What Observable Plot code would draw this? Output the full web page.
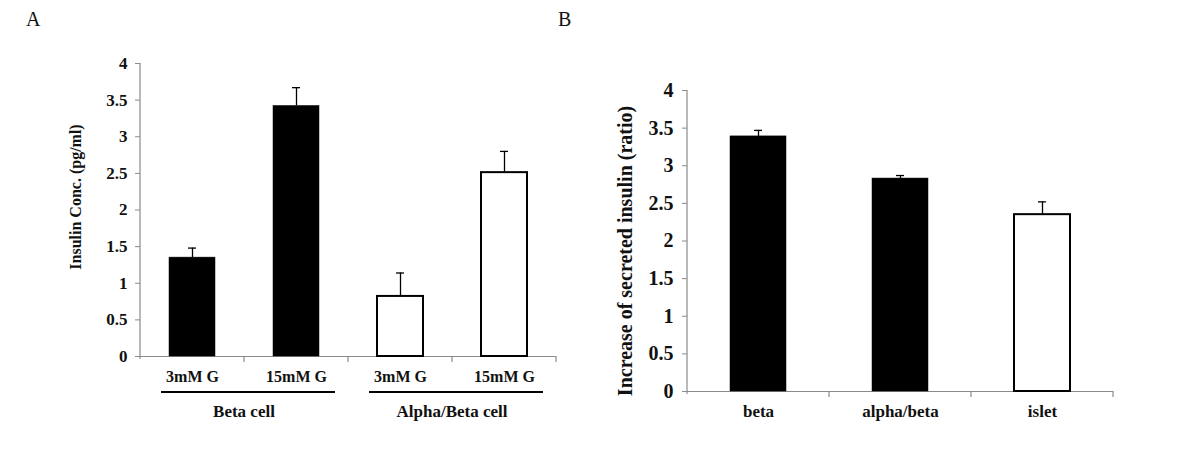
<!DOCTYPE html>
<html>
<head>
<meta charset="utf-8">
<script src="https://cdn.jsdelivr.net/npm/d3@7"></script>
<script src="https://cdn.jsdelivr.net/npm/@observablehq/plot@0.6"></script>
<style>
  body { margin: 0; background: #fff; }
  #wrap { position: relative; width: 1197px; height: 475px; background: #fff; overflow: hidden; }
  .panel { position: absolute; top: 0; }
  .plabel { position: absolute; font-family: "Liberation Serif", serif; font-size: 20px; color: #111; }
</style>
</head>
<body>
<div id="wrap">
  <div class="plabel" style="left:26px; top:8px;">A</div>
  <div class="plabel" style="left:558px; top:8px;">B</div>
  <div class="panel" id="pa" style="left:0px;"></div>
  <div class="panel" id="pb" style="left:597px;"></div>
</div>
<script>
// ---------- Panel A data ----------
const conditionsA = ["3mM G", "15mM G", "3mM G", "15mM G"];
const cellTypesA = ["Beta cell", "Beta cell", "Alpha/Beta cell", "Alpha/Beta cell"];
const insulinA = [1.35, 3.42, 0.82, 2.51];
const errorA = [0.13, 0.25, 0.32, 0.29];
const yTicksA = [0, 0.5, 1, 1.5, 2, 2.5, 3, 3.5, 4];
const yTitleA = "Insulin Conc. (pg/ml)";

// ---------- Panel B data ----------
const cellsB = ["beta", "alpha/beta", "islet"];
const ratioB = [3.39, 2.83, 2.35];
const errorB = [0.08, 0.04, 0.17];
const yTicksB = [0, 0.5, 1, 1.5, 2, 2.5, 3, 3.5, 4];
const yTitleB = "Increase of secreted insulin (ratio)";

const FONT = "Liberation Serif, Times New Roman, serif";
const AXIS_GRAY = "#8a8a8a";

// ---------- Panel A ----------
const dataA = conditionsA.map((c, i) => ({
  key: cellTypesA[i] + "|" + c, cond: c, cell: cellTypesA[i],
  value: insulinA[i], upper: insulinA[i] + errorA[i]
}));
const keysA = dataA.map(d => d.key);
const condByKey = new Map(dataA.map(d => [d.key, d.cond]));

const plotA = Plot.plot({
  width: 600, height: 475,
  marginLeft: 140, marginRight: 44, marginTop: 63, marginBottom: 119,
  style: { fontFamily: FONT, fontWeight: "bold", fontSize: "16px", color: "#111", background: "transparent" },
  x: { type: "band", domain: keysA, paddingInner: 0.558, paddingOuter: 0.279, axis: null },
  y: { domain: [0, 4], axis: null },
  marks: [
    Plot.ruleY([0], { stroke: AXIS_GRAY, strokeWidth: 1.2 }),
    Plot.barY(dataA, {
      x: "key", y: "value",
      fill: d => d.cell === "Alpha/Beta cell" ? "white" : "black",
      stroke: "black", strokeWidth: d => d.cell === "Alpha/Beta cell" ? 2 : 0.5
    }),
    Plot.ruleX(dataA, { x: "key", y1: "value", y2: "upper", stroke: "black", strokeWidth: 1.3 }),
    Plot.tickY(dataA, { x: "key", y: "upper", stroke: "black", strokeWidth: 1.3, insetLeft: 19, insetRight: 19 }),
    Plot.axisY({ ticks: yTicksA, tickFormat: d => String(d), tickSize: 5, tickPadding: 8, stroke: AXIS_GRAY, fontSize: 17, fontWeight: "bold", fontFamily: FONT, label: null }),
    Plot.axisX({ tickSize: 0, tickPadding: 14, fontSize: 16, fontWeight: "bold", fontFamily: FONT, label: null, tickFormat: k => condByKey.get(k) }),
    Plot.text([yTitleA], { frameAnchor: "left", textAnchor: "middle", rotate: -90, dx: -65, dy: -13, fontSize: 16, fontWeight: "bold", fontFamily: FONT, text: d => d })
  ]
});
document.getElementById("pa").appendChild(plotA);

function decorateAxes(svg, plot, keys, tickLen) {
  const xs = plot.scale("x"), ys = plot.scale("y");
  const bw = xs.bandwidth, step = xs.step;
  const g = d3.select(svg).append("g");
  const y0 = ys.apply(0), yTop = ys.apply(ys.domain[1]);
  const xStart = xs.apply(keys[0]) - (step - bw) / 2;
  // y axis line
  g.append("line").attr("x1", xStart).attr("x2", xStart).attr("y1", yTop).attr("y2", y0 + 3)
    .attr("stroke", AXIS_GRAY).attr("stroke-width", 1.2);
  // x ticks at band boundaries
  keys.forEach(k => {
    const xe = xs.apply(k) + bw + (step - bw) / 2;
    g.append("line").attr("x1", xe).attr("x2", xe).attr("y1", y0).attr("y2", y0 + tickLen)
      .attr("stroke", AXIS_GRAY).attr("stroke-width", 1.2);
  });
  return { xs, ys, bw, y0, g };
}

const axA = decorateAxes(plotA, plotA, keysA, 6);
// group underlines and labels
const groupsA = Array.from(new Set(cellTypesA));
groupsA.forEach(grp => {
  const ks = dataA.filter(d => d.cell === grp).map(d => d.key);
  const xl = axA.xs.apply(ks[0]) - 8;
  const xr = axA.xs.apply(ks[ks.length - 1]) + axA.bw + 16;
  const mid = (axA.xs.apply(ks[0]) + axA.xs.apply(ks[ks.length - 1]) + axA.bw) / 2;
  axA.g.append("line").attr("x1", xl).attr("x2", xr).attr("y1", axA.y0 + 36).attr("y2", axA.y0 + 36)
    .attr("stroke", "black").attr("stroke-width", 2.2);
  axA.g.append("text").attr("x", mid).attr("y", axA.y0 + 61).attr("text-anchor", "middle")
    .attr("font-family", FONT).attr("font-weight", "bold").attr("font-size", 17).attr("fill", "#111").text(grp);
});

// ---------- Panel B ----------
const dataB = cellsB.map((c, i) => ({ cell: c, value: ratioB[i], upper: ratioB[i] + errorB[i] }));

const plotB = Plot.plot({
  width: 600, height: 475,
  marginLeft: 90, marginRight: 84, marginTop: 90, marginBottom: 84,
  style: { fontFamily: FONT, fontWeight: "bold", fontSize: "16px", color: "#111", background: "transparent" },
  x: { type: "band", domain: cellsB, paddingInner: 0.606, paddingOuter: 0.303, axis: null },
  y: { domain: [0, 4], axis: null },
  marks: [
    Plot.ruleY([0], { stroke: AXIS_GRAY, strokeWidth: 1.2 }),
    Plot.barY(dataB, {
      x: "cell", y: "value",
      fill: d => d.cell === "islet" ? "white" : "black",
      stroke: "black", strokeWidth: d => d.cell === "islet" ? 2 : 0.5
    }),
    Plot.ruleX(dataB, { x: "cell", y1: "value", y2: "upper", stroke: "black", strokeWidth: 1.3 }),
    Plot.tickY(dataB, { x: "cell", y: "upper", stroke: "black", strokeWidth: 1.3, insetLeft: 24, insetRight: 24 }),
    Plot.axisY({ ticks: yTicksB, tickFormat: d => String(d), tickSize: 5, tickPadding: 9, stroke: AXIS_GRAY, fontSize: 20, fontWeight: "bold", fontFamily: FONT, label: null }),
    Plot.axisX({ tickSize: 0, tickPadding: 13, fontSize: 17, fontWeight: "bold", fontFamily: FONT, label: null }),
    Plot.text([yTitleB], { frameAnchor: "left", textAnchor: "middle", rotate: -90, dx: -62, dy: 10, fontSize: 20, fontWeight: "bold", fontFamily: FONT, text: d => d })
  ]
});
document.getElementById("pb").appendChild(plotB);
decorateAxes(plotB, plotB, cellsB, 6);
</script>
</body>
</html>
